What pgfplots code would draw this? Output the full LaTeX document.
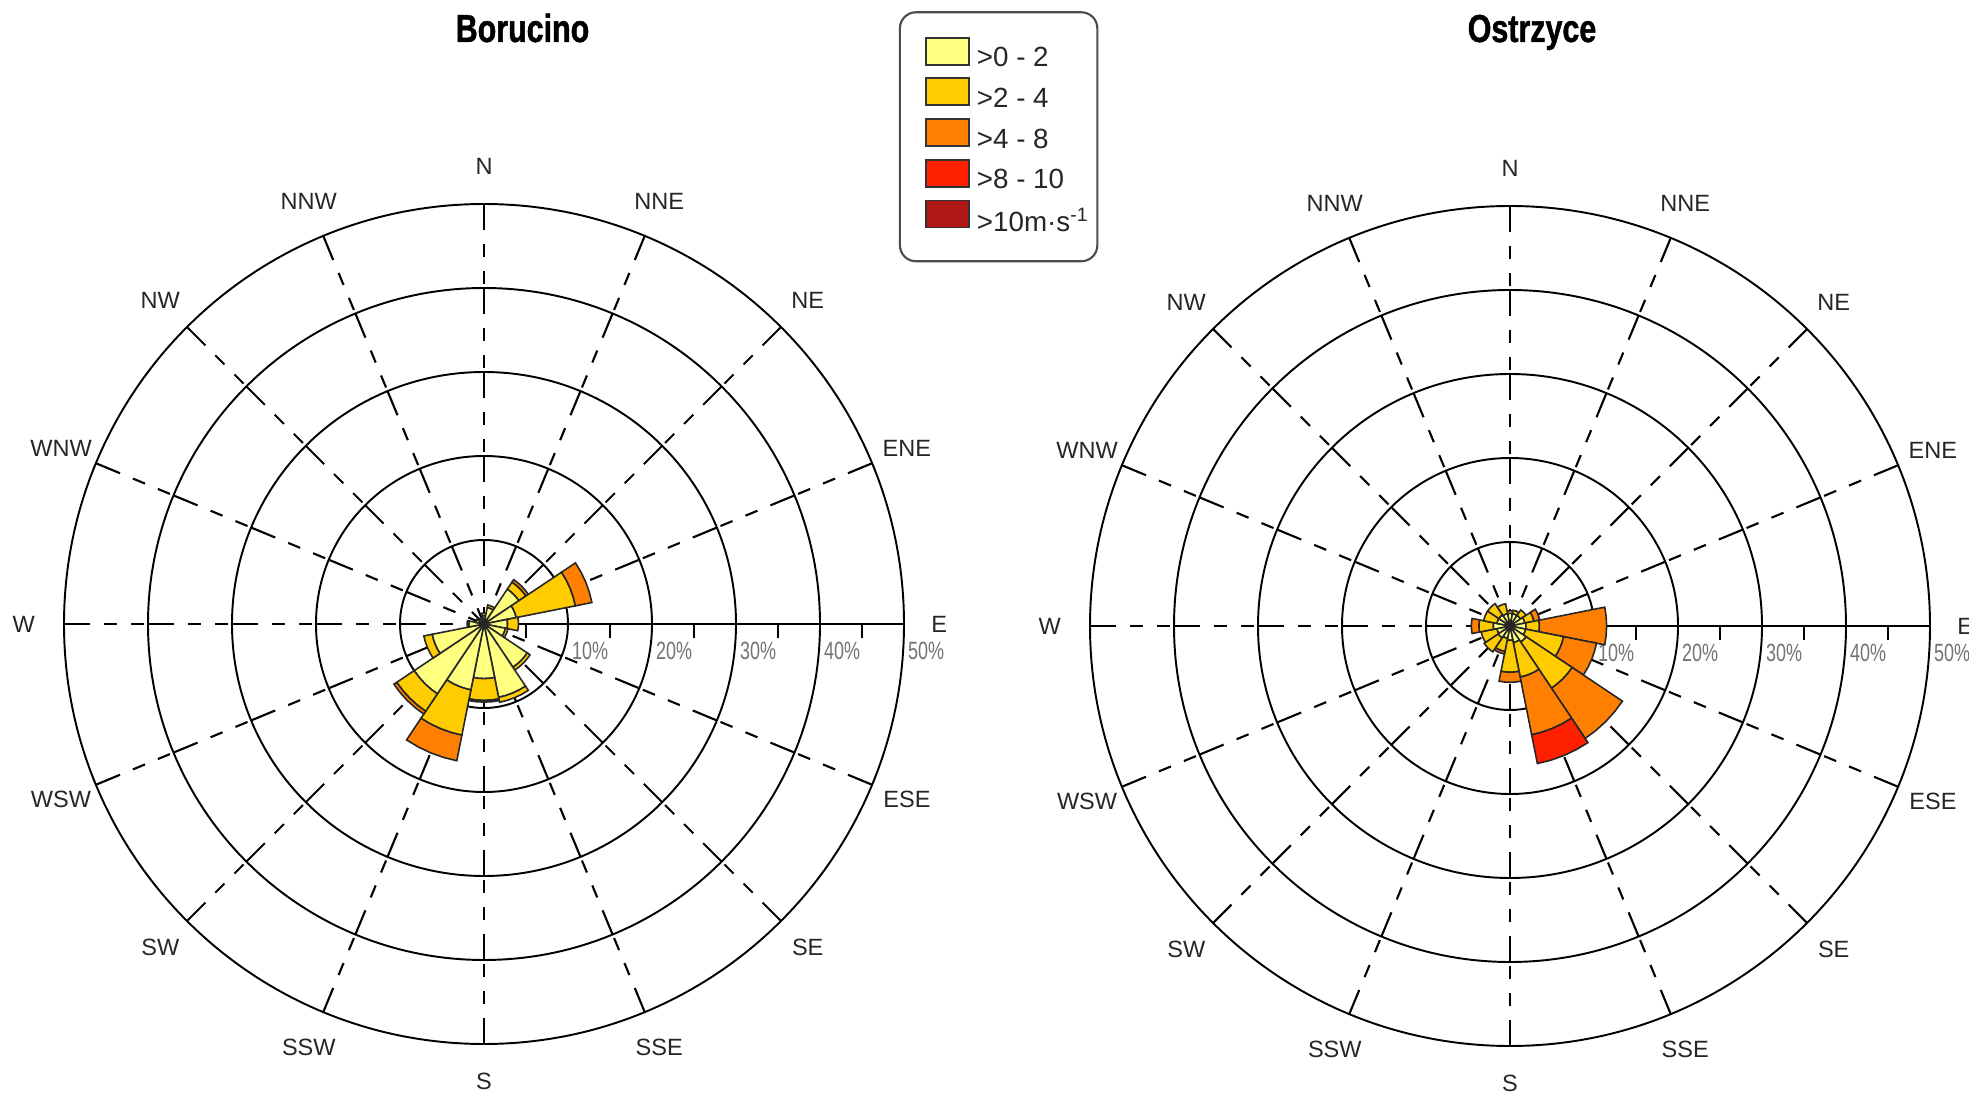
\documentclass[border=0pt]{standalone}
\usepackage{fontspec}
\setmainfont{Liberation Sans}
\newfontfamily\narrowfont[FakeStretch=0.72]{Liberation Sans}
\newfontfamily\titlefont[FakeStretch=0.78,FakeBold=1.2]{Liberation Sans Bold}
\usepackage{pgfplots}
\usepackage{pgfplotstable}
\usepgfplotslibrary{polar}
\pgfplotsset{compat=1.18}

\definecolor{wA}{HTML}{FFFF80}
\definecolor{wB}{HTML}{FFCC00}
\definecolor{wC}{HTML}{FF8000}
\definecolor{wD}{HTML}{FF2000}
\definecolor{wE}{HTML}{B01818}

% percent of time per direction (0 = N, clockwise) and speed class
\pgfplotstableread{
dir a b c d e
0  1.0 0.3 0    0 0
1  2.0 0.3 0    0 0
2  5.0 1.0 0.35 0 0
3  3.9 7.2 2.0  0 0
4  2.8 1.3 0    0 0
5  2.6 0.3 0    0 0
6  6.2 0.4 0    0 0
7  8.9 0.6 0    0 0
8  6.5 2.6 0.2  0 0
9  8.0 5.5 3.1  0 0
10 10.0 2.5 0.4 0 0
11 6.3 1.0 0    0 0
12 1.8 0.2 0    0 0
13 1.0 0   0    0 0
14 0.8 0   0    0 0
15 0.8 0   0    0 0
}\boru

\pgfplotstableread{
dir a b c d e
0  1.5 0.3 0   0   0
1  1.5 0.4 0   0   0
2  1.5 0.8 0   0   0
3  1.8 1.1 0.7 0   0
4  1.9 1.6 8.0 0   0
5  1.9 4.6 4.0 0   0
6  2.3 6.6 7.2 0   0
7  2.0 4.2 7.0 3.5 0
8  1.7 3.8 1.2 0   0
9  1.5 1.6 0.3 0   0
10 1.7 2.0 0   0   0
11 1.6 1.9 0   0   0
12 2.0 1.7 0.9 0   0
13 1.6 1.6 0   0   0
14 1.6 1.6 0   0   0
15 1.5 1.2 0   0   0
}\ostr

\tikzset{
  spoke/.style={black, line width=0.6pt, dash pattern=on 2.6mm off 1.4mm on 1.3mm off 1.4mm on 1.3mm off 0.4mm},
  dirlab/.style={font=\fontsize{6.7}{8}\selectfont, text=black!85, inner sep=0pt},
  pctlab/.style={font=\narrowfont\fontsize{7.1}{8}\selectfont, text=black!55, inner sep=0pt, anchor=north west, xshift=0.35mm, yshift=-1.75mm},
}

\pgfplotsset{
  wedge/.style={draw=black!85, line width=0.45pt, line join=miter, forget plot},
  roseax/.style={
    scale only axis, width=84mm, height=84mm,
    xmin=0, xmax=360, ymin=0, ymax=50,
    xtick=\empty, ytick={10,20,30,40}, yticklabels={},
    ymajorgrids,
    major tick length=0pt,
    grid style={black, line width=0.55pt},
    axis line style={black, line width=0.55pt},
    clip=false, anchor=center,
  },
}

\newcommand\wedgeplot[4]{%
  \pgfmathtruncatemacro\wok{(#3-#2)>0.001}%
  \ifnum\wok=1
    \pgfmathsetmacro\aA{#1+11.25}%
    \pgfmathsetmacro\aB{#1+5.625}%
    \pgfmathsetmacro\aD{#1-5.625}%
    \pgfmathsetmacro\aE{#1-11.25}%
    \edef\wtmp{\noexpand\addplot[wedge,fill=#4] coordinates {(\aA,#2) (\aA,#3) (\aB,#3) (#1,#3) (\aD,#3) (\aE,#3) (\aE,#2) (\aD,#2) (#1,#2) (\aB,#2)} -- cycle;}%
    \wtmp
  \fi
}

\newcommand\drawrose[1]{%
  \pgfplotsforeachungrouped \i in {0,...,15}{%
    \pgfmathsetmacro\ang{90-22.5*\i}%
    \pgfplotstablegetelem{\i}{a}\of#1\let\va\pgfplotsretval
    \pgfplotstablegetelem{\i}{b}\of#1\let\vb\pgfplotsretval
    \pgfplotstablegetelem{\i}{c}\of#1\let\vc\pgfplotsretval
    \pgfplotstablegetelem{\i}{d}\of#1\let\vd\pgfplotsretval
    \pgfplotstablegetelem{\i}{e}\of#1\let\ve\pgfplotsretval
    \pgfmathsetmacro\rA{\va}%
    \pgfmathsetmacro\rB{\rA+\vb}%
    \pgfmathsetmacro\rC{\rB+\vc}%
    \pgfmathsetmacro\rD{\rC+\vd}%
    \pgfmathsetmacro\rE{\rD+\ve}%
    \wedgeplot{\ang}{0}{\rA}{wA}%
    \wedgeplot{\ang}{\rA}{\rB}{wB}%
    \wedgeplot{\ang}{\rB}{\rC}{wC}%
    \wedgeplot{\ang}{\rC}{\rD}{wD}%
    \wedgeplot{\ang}{\rD}{\rE}{wE}%
  }%
}

\newcommand\roseframe{%
  \pgfplotsinvokeforeach{0,22.5,...,337.5}{\draw[spoke] (axis cs:##1,50) -- (axis cs:##1,0);}
  \draw[black, line width=0.4pt] (axis cs:0,0) -- (axis cs:0,50);
  \pgfplotsinvokeforeach{5,15,25,35,45}{\draw[black, line width=0.55pt] (axis cs:0,##1) -- ++(0mm,-1.4mm);}
  \pgfplotsinvokeforeach{10,20,30,40,50}{\node[pctlab] at (axis cs:0,##1) {##1\%};}
}

\newcommand\dirlabels{%
  \node[dirlab] at (axis cs:90,54.5) {N};
  \node[dirlab] at (axis cs:67.5,54.5) {NNE};
  \node[dirlab] at (axis cs:45,54.5) {NE};
  \node[dirlab] at (axis cs:22.5,54.5) {ENE};
  \node[dirlab] at (axis cs:0,54.2) {E};
  \node[dirlab] at (axis cs:-22.5,54.5) {ESE};
  \node[dirlab] at (axis cs:-45,54.5) {SE};
  \node[dirlab] at (axis cs:-67.5,54.5) {SSE};
  \node[dirlab] at (axis cs:-90,54.5) {S};
  \node[dirlab] at (axis cs:-112.5,54.5) {SSW};
  \node[dirlab] at (axis cs:-135,54.5) {SW};
  \node[dirlab] at (axis cs:-157.5,54.5) {WSW};
  \node[dirlab] at (axis cs:180,54.8) {W};
  \node[dirlab] at (axis cs:157.5,54.5) {WNW};
  \node[dirlab] at (axis cs:135,54.5) {NW};
  \node[dirlab] at (axis cs:112.5,54.5) {NNW};
}

\begin{document}
\begin{tikzpicture}
\useasboundingbox (0,0) rectangle (196.9mm,109.7mm);

\begin{polaraxis}[roseax, at={(48.4mm,47.3mm)},
  legend image code/.code={\path[draw=none,fill=none] (-2.2mm,0.8mm) -- (4.7mm,0.8mm);\draw[#1, line width=0.5pt, sharp corners] (0mm,-0.5mm) rectangle (4.3mm,2.2mm);},
  legend style={at={(axis cs:55.9,88.1)}, anchor=north west, draw=black!70, line width=0.6pt,
    rounded corners=1.6mm, inner xsep=0.4mm, inner ysep=2.45mm, row sep=0.55mm,
    font=\fontsize{7.9}{8}\selectfont, text=black!85,
    nodes={inner xsep=0.4mm, inner ysep=0pt}},
  legend cell align=left]
\addlegendimage{draw=black!80, fill=wA}\addlegendentry{>0 - 2}
\addlegendimage{draw=black!80, fill=wB}\addlegendentry{>2 - 4}
\addlegendimage{draw=black!80, fill=wC}\addlegendentry{>4 - 8}
\addlegendimage{draw=black!80, fill=wD}\addlegendentry{>8 - 10}
\addlegendimage{draw=black!80, fill=wE}\addlegendentry{>10m\textperiodcentered s\textsuperscript{-1}}
\roseframe
\drawrose{\boru}
\dirlabels
\end{polaraxis}

\begin{polaraxis}[roseax, at={(151.0mm,47.1mm)}]
\roseframe
\drawrose{\ostr}
\dirlabels
\end{polaraxis}

\node[font=\titlefont\fontsize{11.1}{13}\selectfont, inner sep=0pt, anchor=base] at (52.25mm,105.5mm) {Borucino};
\node[font=\titlefont\fontsize{11.1}{13}\selectfont, inner sep=0pt, anchor=base] at (153.2mm,105.5mm) {Ostrzyce};
\end{tikzpicture}
\end{document}
